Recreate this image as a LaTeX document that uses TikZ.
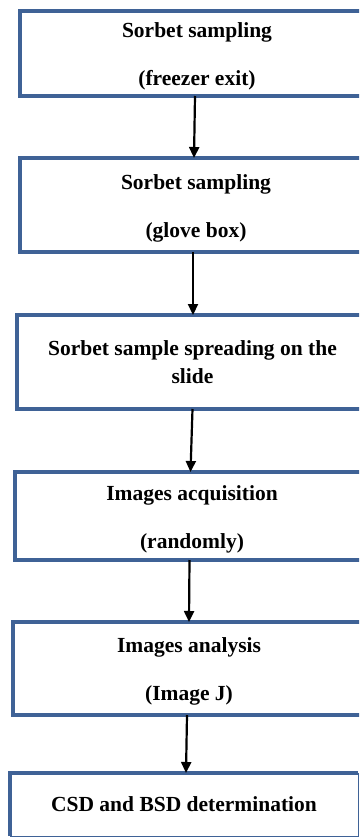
\documentclass[tikz,border=0pt]{standalone}
\usepackage{fontspec}
\setmainfont{Liberation Serif}
\usetikzlibrary{arrows.meta}
\definecolor{frame}{HTML}{3F6296}
\newcommand{\lowered}{\rule{0pt}{21pt}}

\begin{document}
\begin{tikzpicture}[x=1pt,y=-1pt,
    stepbox/.style={draw=frame,line width=3.5pt,inner sep=0pt,outer sep=0pt,
      align=center,font=\bfseries\fontsize{21.5}{28}\selectfont},
    flow/.style={line width=2.2pt,-{Triangle[width=10pt,length=11pt]}}]
      \useasboundingbox (0,0) rectangle (359,838);
      \clip (0,0) rectangle (359,838);
      \node[stepbox,minimum width=354pt,minimum height=85pt] (box1) at (197,53.5)
        {\lowered Sorbet sampling\\[20pt](freezer exit)};
      \node[stepbox,minimum width=352pt,minimum height=94pt] (box2) at (196,205)
        {\lowered Sorbet sampling\\[20pt](glove box)};
      \node[stepbox,minimum width=351pt,minimum height=94pt] (box3) at (192.5,362)
        {Sorbet sample spreading on the\\slide};
      \node[stepbox,minimum width=354pt,minimum height=88pt] (box4) at (192,516)
        {\lowered Images acquisition\\[20pt](randomly)};
      \node[stepbox,minimum width=352pt,minimum height=93pt] (box5) at (189,668.5)
        {\lowered Images analysis\\[20pt](Image J)};
      \node[stepbox,line width=1pt,minimum width=348pt,minimum height=63pt] (box6) at (184,804.5)
        {CSD and BSD determination};
      \draw[frame,line width=3.5pt] (box6.south west) -- (box6.north west) -- (box6.north east);
      \draw[flow] (box1.south -| 195,0) -- (box2.north -| 194,0);
      \draw[flow] (box2.south -| 193,0) -- (box3.north -| 193,0);
      \draw[flow] (box3.south -| 192.5,0) -- (box4.north -| 190.5,0);
      \draw[flow] (box4.south -| 189.5,0) -- (box5.north -| 189,0);
      \draw[flow] (box5.south -| 187,0) -- (box6.north -| 186,0);
    \end{tikzpicture}
\end{document}
